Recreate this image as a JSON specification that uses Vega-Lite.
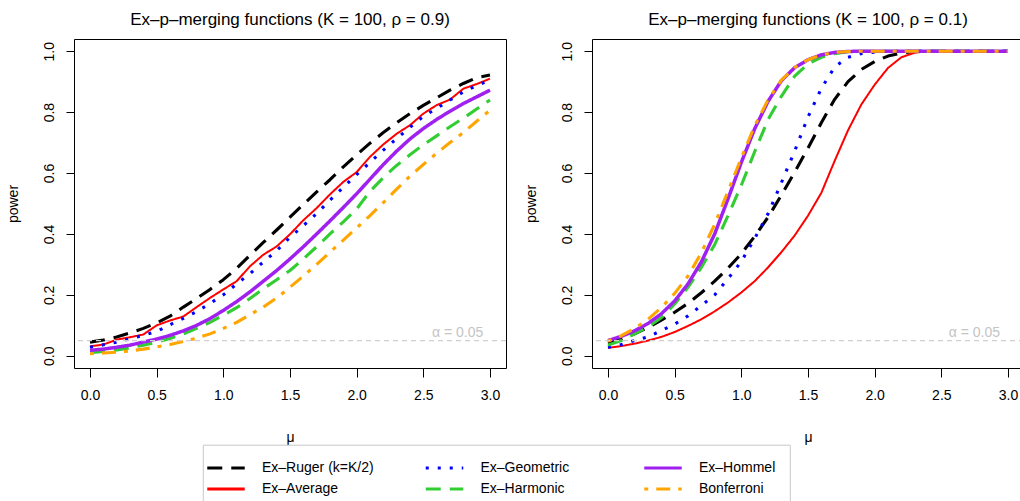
{
"$schema":"https://vega.github.io/schema/vega-lite/v6.json",
"background":"white",
"autosize":{"type":"pad"},
"padding":{"left":6,"top":10,"right":0,"bottom":0},
"bounds":"flush",
"spacing":86,
"datasets":{"curves":[
{"panel":"L","series":"Ruger","mu":0,"power":0.045},{"panel":"L","series":"Ruger","mu":0.1,"power":0.052},{"panel":"L","series":"Ruger","mu":0.2,"power":0.062},{"panel":"L","series":"Ruger","mu":0.3,"power":0.075},{"panel":"L","series":"Ruger","mu":0.4,"power":0.09},{"panel":"L","series":"Ruger","mu":0.5,"power":0.108},{"panel":"L","series":"Ruger","mu":0.6,"power":0.13},{"panel":"L","series":"Ruger","mu":0.7,"power":0.16},{"panel":"L","series":"Ruger","mu":0.8,"power":0.188},{"panel":"L","series":"Ruger","mu":0.9,"power":0.218},{"panel":"L","series":"Ruger","mu":1,"power":0.25},{"panel":"L","series":"Ruger","mu":1.1,"power":0.287},{"panel":"L","series":"Ruger","mu":1.2,"power":0.33},{"panel":"L","series":"Ruger","mu":1.3,"power":0.372},{"panel":"L","series":"Ruger","mu":1.4,"power":0.413},{"panel":"L","series":"Ruger","mu":1.5,"power":0.455},{"panel":"L","series":"Ruger","mu":1.6,"power":0.497},{"panel":"L","series":"Ruger","mu":1.7,"power":0.538},{"panel":"L","series":"Ruger","mu":1.8,"power":0.578},{"panel":"L","series":"Ruger","mu":1.9,"power":0.62},{"panel":"L","series":"Ruger","mu":2,"power":0.66},{"panel":"L","series":"Ruger","mu":2.1,"power":0.698},{"panel":"L","series":"Ruger","mu":2.2,"power":0.733},{"panel":"L","series":"Ruger","mu":2.3,"power":0.765},{"panel":"L","series":"Ruger","mu":2.4,"power":0.795},{"panel":"L","series":"Ruger","mu":2.5,"power":0.822},{"panel":"L","series":"Ruger","mu":2.6,"power":0.847},{"panel":"L","series":"Ruger","mu":2.7,"power":0.872},{"panel":"L","series":"Ruger","mu":2.8,"power":0.894},{"panel":"L","series":"Ruger","mu":2.9,"power":0.913},{"panel":"L","series":"Ruger","mu":3,"power":0.922},
{"panel":"L","series":"Average","mu":0,"power":0.031},{"panel":"L","series":"Average","mu":0.1,"power":0.037},{"panel":"L","series":"Average","mu":0.2,"power":0.053},{"panel":"L","series":"Average","mu":0.3,"power":0.061},{"panel":"L","series":"Average","mu":0.4,"power":0.07},{"panel":"L","series":"Average","mu":0.5,"power":0.1},{"panel":"L","series":"Average","mu":0.6,"power":0.116},{"panel":"L","series":"Average","mu":0.7,"power":0.129},{"panel":"L","series":"Average","mu":0.8,"power":0.16},{"panel":"L","series":"Average","mu":0.9,"power":0.19},{"panel":"L","series":"Average","mu":1,"power":0.218},{"panel":"L","series":"Average","mu":1.1,"power":0.245},{"panel":"L","series":"Average","mu":1.2,"power":0.294},{"panel":"L","series":"Average","mu":1.3,"power":0.332},{"panel":"L","series":"Average","mu":1.4,"power":0.359},{"panel":"L","series":"Average","mu":1.5,"power":0.399},{"panel":"L","series":"Average","mu":1.6,"power":0.445},{"panel":"L","series":"Average","mu":1.7,"power":0.485},{"panel":"L","series":"Average","mu":1.8,"power":0.53},{"panel":"L","series":"Average","mu":1.9,"power":0.571},{"panel":"L","series":"Average","mu":2,"power":0.603},{"panel":"L","series":"Average","mu":2.1,"power":0.653},{"panel":"L","series":"Average","mu":2.2,"power":0.694},{"panel":"L","series":"Average","mu":2.3,"power":0.729},{"panel":"L","series":"Average","mu":2.4,"power":0.757},{"panel":"L","series":"Average","mu":2.5,"power":0.795},{"panel":"L","series":"Average","mu":2.6,"power":0.823},{"panel":"L","series":"Average","mu":2.7,"power":0.841},{"panel":"L","series":"Average","mu":2.8,"power":0.877},{"panel":"L","series":"Average","mu":2.9,"power":0.892},{"panel":"L","series":"Average","mu":3,"power":0.91},
{"panel":"L","series":"Geometric","mu":0,"power":0.028},{"panel":"L","series":"Geometric","mu":0.1,"power":0.036},{"panel":"L","series":"Geometric","mu":0.2,"power":0.045},{"panel":"L","series":"Geometric","mu":0.3,"power":0.056},{"panel":"L","series":"Geometric","mu":0.4,"power":0.067},{"panel":"L","series":"Geometric","mu":0.5,"power":0.08},{"panel":"L","series":"Geometric","mu":0.6,"power":0.102},{"panel":"L","series":"Geometric","mu":0.7,"power":0.123},{"panel":"L","series":"Geometric","mu":0.8,"power":0.145},{"panel":"L","series":"Geometric","mu":0.9,"power":0.172},{"panel":"L","series":"Geometric","mu":1,"power":0.2},{"panel":"L","series":"Geometric","mu":1.1,"power":0.236},{"panel":"L","series":"Geometric","mu":1.2,"power":0.27},{"panel":"L","series":"Geometric","mu":1.3,"power":0.308},{"panel":"L","series":"Geometric","mu":1.4,"power":0.345},{"panel":"L","series":"Geometric","mu":1.5,"power":0.389},{"panel":"L","series":"Geometric","mu":1.6,"power":0.427},{"panel":"L","series":"Geometric","mu":1.7,"power":0.467},{"panel":"L","series":"Geometric","mu":1.8,"power":0.511},{"panel":"L","series":"Geometric","mu":1.9,"power":0.553},{"panel":"L","series":"Geometric","mu":2,"power":0.595},{"panel":"L","series":"Geometric","mu":2.1,"power":0.635},{"panel":"L","series":"Geometric","mu":2.2,"power":0.675},{"panel":"L","series":"Geometric","mu":2.3,"power":0.713},{"panel":"L","series":"Geometric","mu":2.4,"power":0.75},{"panel":"L","series":"Geometric","mu":2.5,"power":0.786},{"panel":"L","series":"Geometric","mu":2.6,"power":0.812},{"panel":"L","series":"Geometric","mu":2.7,"power":0.84},{"panel":"L","series":"Geometric","mu":2.8,"power":0.866},{"panel":"L","series":"Geometric","mu":2.9,"power":0.887},{"panel":"L","series":"Geometric","mu":3,"power":0.905},
{"panel":"L","series":"Harmonic","mu":0,"power":0.01},{"panel":"L","series":"Harmonic","mu":0.1,"power":0.014},{"panel":"L","series":"Harmonic","mu":0.2,"power":0.019},{"panel":"L","series":"Harmonic","mu":0.3,"power":0.026},{"panel":"L","series":"Harmonic","mu":0.4,"power":0.035},{"panel":"L","series":"Harmonic","mu":0.5,"power":0.045},{"panel":"L","series":"Harmonic","mu":0.6,"power":0.057},{"panel":"L","series":"Harmonic","mu":0.7,"power":0.072},{"panel":"L","series":"Harmonic","mu":0.8,"power":0.09},{"panel":"L","series":"Harmonic","mu":0.9,"power":0.11},{"panel":"L","series":"Harmonic","mu":1,"power":0.133},{"panel":"L","series":"Harmonic","mu":1.1,"power":0.158},{"panel":"L","series":"Harmonic","mu":1.2,"power":0.188},{"panel":"L","series":"Harmonic","mu":1.3,"power":0.22},{"panel":"L","series":"Harmonic","mu":1.4,"power":0.25},{"panel":"L","series":"Harmonic","mu":1.5,"power":0.28},{"panel":"L","series":"Harmonic","mu":1.6,"power":0.318},{"panel":"L","series":"Harmonic","mu":1.7,"power":0.358},{"panel":"L","series":"Harmonic","mu":1.8,"power":0.4},{"panel":"L","series":"Harmonic","mu":1.9,"power":0.44},{"panel":"L","series":"Harmonic","mu":2,"power":0.482},{"panel":"L","series":"Harmonic","mu":2.1,"power":0.54},{"panel":"L","series":"Harmonic","mu":2.2,"power":0.585},{"panel":"L","series":"Harmonic","mu":2.3,"power":0.625},{"panel":"L","series":"Harmonic","mu":2.4,"power":0.66},{"panel":"L","series":"Harmonic","mu":2.5,"power":0.693},{"panel":"L","series":"Harmonic","mu":2.6,"power":0.722},{"panel":"L","series":"Harmonic","mu":2.7,"power":0.752},{"panel":"L","series":"Harmonic","mu":2.8,"power":0.78},{"panel":"L","series":"Harmonic","mu":2.9,"power":0.81},{"panel":"L","series":"Harmonic","mu":3,"power":0.84},
{"panel":"L","series":"Hommel","mu":0,"power":0.018},{"panel":"L","series":"Hommel","mu":0.1,"power":0.022},{"panel":"L","series":"Hommel","mu":0.2,"power":0.028},{"panel":"L","series":"Hommel","mu":0.3,"power":0.035},{"panel":"L","series":"Hommel","mu":0.4,"power":0.045},{"panel":"L","series":"Hommel","mu":0.5,"power":0.055},{"panel":"L","series":"Hommel","mu":0.6,"power":0.067},{"panel":"L","series":"Hommel","mu":0.7,"power":0.082},{"panel":"L","series":"Hommel","mu":0.8,"power":0.1},{"panel":"L","series":"Hommel","mu":0.9,"power":0.122},{"panel":"L","series":"Hommel","mu":1,"power":0.149},{"panel":"L","series":"Hommel","mu":1.1,"power":0.178},{"panel":"L","series":"Hommel","mu":1.2,"power":0.21},{"panel":"L","series":"Hommel","mu":1.3,"power":0.245},{"panel":"L","series":"Hommel","mu":1.4,"power":0.28},{"panel":"L","series":"Hommel","mu":1.5,"power":0.318},{"panel":"L","series":"Hommel","mu":1.6,"power":0.358},{"panel":"L","series":"Hommel","mu":1.7,"power":0.4},{"panel":"L","series":"Hommel","mu":1.8,"power":0.443},{"panel":"L","series":"Hommel","mu":1.9,"power":0.487},{"panel":"L","series":"Hommel","mu":2,"power":0.532},{"panel":"L","series":"Hommel","mu":2.1,"power":0.58},{"panel":"L","series":"Hommel","mu":2.2,"power":0.628},{"panel":"L","series":"Hommel","mu":2.3,"power":0.672},{"panel":"L","series":"Hommel","mu":2.4,"power":0.712},{"panel":"L","series":"Hommel","mu":2.5,"power":0.746},{"panel":"L","series":"Hommel","mu":2.6,"power":0.776},{"panel":"L","series":"Hommel","mu":2.7,"power":0.803},{"panel":"L","series":"Hommel","mu":2.8,"power":0.828},{"panel":"L","series":"Hommel","mu":2.9,"power":0.85},{"panel":"L","series":"Hommel","mu":3,"power":0.872},
{"panel":"L","series":"Bonferroni","mu":0,"power":0.007},{"panel":"L","series":"Bonferroni","mu":0.1,"power":0.009},{"panel":"L","series":"Bonferroni","mu":0.2,"power":0.012},{"panel":"L","series":"Bonferroni","mu":0.3,"power":0.016},{"panel":"L","series":"Bonferroni","mu":0.4,"power":0.022},{"panel":"L","series":"Bonferroni","mu":0.5,"power":0.029},{"panel":"L","series":"Bonferroni","mu":0.6,"power":0.037},{"panel":"L","series":"Bonferroni","mu":0.7,"power":0.047},{"panel":"L","series":"Bonferroni","mu":0.8,"power":0.058},{"panel":"L","series":"Bonferroni","mu":0.9,"power":0.072},{"panel":"L","series":"Bonferroni","mu":1,"power":0.09},{"panel":"L","series":"Bonferroni","mu":1.1,"power":0.11},{"panel":"L","series":"Bonferroni","mu":1.2,"power":0.135},{"panel":"L","series":"Bonferroni","mu":1.3,"power":0.16},{"panel":"L","series":"Bonferroni","mu":1.4,"power":0.19},{"panel":"L","series":"Bonferroni","mu":1.5,"power":0.225},{"panel":"L","series":"Bonferroni","mu":1.6,"power":0.262},{"panel":"L","series":"Bonferroni","mu":1.7,"power":0.3},{"panel":"L","series":"Bonferroni","mu":1.8,"power":0.34},{"panel":"L","series":"Bonferroni","mu":1.9,"power":0.38},{"panel":"L","series":"Bonferroni","mu":2,"power":0.42},{"panel":"L","series":"Bonferroni","mu":2.1,"power":0.46},{"panel":"L","series":"Bonferroni","mu":2.2,"power":0.503},{"panel":"L","series":"Bonferroni","mu":2.3,"power":0.547},{"panel":"L","series":"Bonferroni","mu":2.4,"power":0.59},{"panel":"L","series":"Bonferroni","mu":2.5,"power":0.628},{"panel":"L","series":"Bonferroni","mu":2.6,"power":0.665},{"panel":"L","series":"Bonferroni","mu":2.7,"power":0.7},{"panel":"L","series":"Bonferroni","mu":2.8,"power":0.733},{"panel":"L","series":"Bonferroni","mu":2.9,"power":0.77},{"panel":"L","series":"Bonferroni","mu":3,"power":0.806},
{"panel":"R","series":"Ruger","mu":0,"power":0.042},{"panel":"R","series":"Ruger","mu":0.1,"power":0.055},{"panel":"R","series":"Ruger","mu":0.2,"power":0.072},{"panel":"R","series":"Ruger","mu":0.3,"power":0.093},{"panel":"R","series":"Ruger","mu":0.4,"power":0.117},{"panel":"R","series":"Ruger","mu":0.5,"power":0.143},{"panel":"R","series":"Ruger","mu":0.6,"power":0.172},{"panel":"R","series":"Ruger","mu":0.7,"power":0.207},{"panel":"R","series":"Ruger","mu":0.8,"power":0.245},{"panel":"R","series":"Ruger","mu":0.9,"power":0.288},{"panel":"R","series":"Ruger","mu":1,"power":0.335},{"panel":"R","series":"Ruger","mu":1.1,"power":0.392},{"panel":"R","series":"Ruger","mu":1.2,"power":0.455},{"panel":"R","series":"Ruger","mu":1.3,"power":0.527},{"panel":"R","series":"Ruger","mu":1.4,"power":0.603},{"panel":"R","series":"Ruger","mu":1.5,"power":0.682},{"panel":"R","series":"Ruger","mu":1.6,"power":0.765},{"panel":"R","series":"Ruger","mu":1.7,"power":0.842},{"panel":"R","series":"Ruger","mu":1.8,"power":0.9},{"panel":"R","series":"Ruger","mu":1.9,"power":0.94},{"panel":"R","series":"Ruger","mu":2,"power":0.966},{"panel":"R","series":"Ruger","mu":2.1,"power":0.984},{"panel":"R","series":"Ruger","mu":2.2,"power":0.994},{"panel":"R","series":"Ruger","mu":2.3,"power":0.999},{"panel":"R","series":"Ruger","mu":2.4,"power":1},{"panel":"R","series":"Ruger","mu":3,"power":1},
{"panel":"R","series":"Average","mu":0,"power":0.026},{"panel":"R","series":"Average","mu":0.1,"power":0.032},{"panel":"R","series":"Average","mu":0.2,"power":0.04},{"panel":"R","series":"Average","mu":0.3,"power":0.05},{"panel":"R","series":"Average","mu":0.4,"power":0.062},{"panel":"R","series":"Average","mu":0.5,"power":0.078},{"panel":"R","series":"Average","mu":0.6,"power":0.098},{"panel":"R","series":"Average","mu":0.7,"power":0.12},{"panel":"R","series":"Average","mu":0.8,"power":0.146},{"panel":"R","series":"Average","mu":0.9,"power":0.175},{"panel":"R","series":"Average","mu":1,"power":0.208},{"panel":"R","series":"Average","mu":1.1,"power":0.245},{"panel":"R","series":"Average","mu":1.2,"power":0.29},{"panel":"R","series":"Average","mu":1.3,"power":0.34},{"panel":"R","series":"Average","mu":1.4,"power":0.395},{"panel":"R","series":"Average","mu":1.5,"power":0.46},{"panel":"R","series":"Average","mu":1.6,"power":0.535},{"panel":"R","series":"Average","mu":1.7,"power":0.64},{"panel":"R","series":"Average","mu":1.8,"power":0.74},{"panel":"R","series":"Average","mu":1.9,"power":0.825},{"panel":"R","series":"Average","mu":2,"power":0.89},{"panel":"R","series":"Average","mu":2.1,"power":0.945},{"panel":"R","series":"Average","mu":2.2,"power":0.98},{"panel":"R","series":"Average","mu":2.3,"power":0.995},{"panel":"R","series":"Average","mu":2.4,"power":1},{"panel":"R","series":"Average","mu":3,"power":1},
{"panel":"R","series":"Geometric","mu":0,"power":0.028},{"panel":"R","series":"Geometric","mu":0.1,"power":0.037},{"panel":"R","series":"Geometric","mu":0.2,"power":0.05},{"panel":"R","series":"Geometric","mu":0.3,"power":0.062},{"panel":"R","series":"Geometric","mu":0.4,"power":0.083},{"panel":"R","series":"Geometric","mu":0.5,"power":0.104},{"panel":"R","series":"Geometric","mu":0.6,"power":0.131},{"panel":"R","series":"Geometric","mu":0.7,"power":0.165},{"panel":"R","series":"Geometric","mu":0.8,"power":0.2},{"panel":"R","series":"Geometric","mu":0.9,"power":0.253},{"panel":"R","series":"Geometric","mu":1,"power":0.31},{"panel":"R","series":"Geometric","mu":1.1,"power":0.385},{"panel":"R","series":"Geometric","mu":1.2,"power":0.466},{"panel":"R","series":"Geometric","mu":1.3,"power":0.568},{"panel":"R","series":"Geometric","mu":1.4,"power":0.672},{"panel":"R","series":"Geometric","mu":1.5,"power":0.784},{"panel":"R","series":"Geometric","mu":1.6,"power":0.878},{"panel":"R","series":"Geometric","mu":1.7,"power":0.948},{"panel":"R","series":"Geometric","mu":1.8,"power":0.98},{"panel":"R","series":"Geometric","mu":1.9,"power":0.992},{"panel":"R","series":"Geometric","mu":2,"power":0.997},{"panel":"R","series":"Geometric","mu":2.1,"power":1},{"panel":"R","series":"Geometric","mu":3,"power":1},
{"panel":"R","series":"Harmonic","mu":0,"power":0.035},{"panel":"R","series":"Harmonic","mu":0.1,"power":0.05},{"panel":"R","series":"Harmonic","mu":0.2,"power":0.072},{"panel":"R","series":"Harmonic","mu":0.3,"power":0.095},{"panel":"R","series":"Harmonic","mu":0.4,"power":0.125},{"panel":"R","series":"Harmonic","mu":0.5,"power":0.17},{"panel":"R","series":"Harmonic","mu":0.6,"power":0.225},{"panel":"R","series":"Harmonic","mu":0.7,"power":0.29},{"panel":"R","series":"Harmonic","mu":0.8,"power":0.365},{"panel":"R","series":"Harmonic","mu":0.9,"power":0.46},{"panel":"R","series":"Harmonic","mu":1,"power":0.56},{"panel":"R","series":"Harmonic","mu":1.1,"power":0.67},{"panel":"R","series":"Harmonic","mu":1.2,"power":0.775},{"panel":"R","series":"Harmonic","mu":1.3,"power":0.852},{"panel":"R","series":"Harmonic","mu":1.4,"power":0.918},{"panel":"R","series":"Harmonic","mu":1.5,"power":0.958},{"panel":"R","series":"Harmonic","mu":1.6,"power":0.98},{"panel":"R","series":"Harmonic","mu":1.7,"power":0.992},{"panel":"R","series":"Harmonic","mu":1.8,"power":0.998},{"panel":"R","series":"Harmonic","mu":1.9,"power":1},{"panel":"R","series":"Harmonic","mu":3,"power":1},
{"panel":"R","series":"Hommel","mu":0,"power":0.05},{"panel":"R","series":"Hommel","mu":0.1,"power":0.064},{"panel":"R","series":"Hommel","mu":0.2,"power":0.082},{"panel":"R","series":"Hommel","mu":0.3,"power":0.106},{"panel":"R","series":"Hommel","mu":0.4,"power":0.138},{"panel":"R","series":"Hommel","mu":0.5,"power":0.18},{"panel":"R","series":"Hommel","mu":0.6,"power":0.236},{"panel":"R","series":"Hommel","mu":0.7,"power":0.308},{"panel":"R","series":"Hommel","mu":0.8,"power":0.4},{"panel":"R","series":"Hommel","mu":0.9,"power":0.515},{"panel":"R","series":"Hommel","mu":1,"power":0.635},{"panel":"R","series":"Hommel","mu":1.1,"power":0.745},{"panel":"R","series":"Hommel","mu":1.2,"power":0.835},{"panel":"R","series":"Hommel","mu":1.3,"power":0.903},{"panel":"R","series":"Hommel","mu":1.4,"power":0.946},{"panel":"R","series":"Hommel","mu":1.5,"power":0.972},{"panel":"R","series":"Hommel","mu":1.6,"power":0.988},{"panel":"R","series":"Hommel","mu":1.7,"power":0.996},{"panel":"R","series":"Hommel","mu":1.8,"power":0.999},{"panel":"R","series":"Hommel","mu":1.9,"power":1},{"panel":"R","series":"Hommel","mu":3,"power":1},
{"panel":"R","series":"Bonferroni","mu":0,"power":0.048},{"panel":"R","series":"Bonferroni","mu":0.1,"power":0.066},{"panel":"R","series":"Bonferroni","mu":0.2,"power":0.09},{"panel":"R","series":"Bonferroni","mu":0.3,"power":0.12},{"panel":"R","series":"Bonferroni","mu":0.4,"power":0.158},{"panel":"R","series":"Bonferroni","mu":0.5,"power":0.205},{"panel":"R","series":"Bonferroni","mu":0.6,"power":0.262},{"panel":"R","series":"Bonferroni","mu":0.7,"power":0.338},{"panel":"R","series":"Bonferroni","mu":0.8,"power":0.432},{"panel":"R","series":"Bonferroni","mu":0.9,"power":0.54},{"panel":"R","series":"Bonferroni","mu":1,"power":0.65},{"panel":"R","series":"Bonferroni","mu":1.1,"power":0.755},{"panel":"R","series":"Bonferroni","mu":1.2,"power":0.84},{"panel":"R","series":"Bonferroni","mu":1.3,"power":0.905},{"panel":"R","series":"Bonferroni","mu":1.4,"power":0.946},{"panel":"R","series":"Bonferroni","mu":1.5,"power":0.972},{"panel":"R","series":"Bonferroni","mu":1.6,"power":0.988},{"panel":"R","series":"Bonferroni","mu":1.7,"power":0.996},{"panel":"R","series":"Bonferroni","mu":1.8,"power":0.999},{"panel":"R","series":"Bonferroni","mu":1.9,"power":1},{"panel":"R","series":"Bonferroni","mu":3,"power":1}
]},
"hconcat":[
{"width":432,"height":329,
"title":{"text":"Ex–p–merging functions (K = 100, ρ = 0.9)"},
"layer":[
{"data":{"name":"curves"},"transform":[{"filter":"datum.panel === 'L'"}],
"mark":{"type":"line","strokeJoin":"round","strokeCap":"butt"},
"encoding":{
"x":{"field":"mu","type":"quantitative","scale":{"domain":[-0.12,3.12],"nice":false,"zero":false},"axis":{"title":"μ","values":[0,0.5,1,1.5,2,2.5,3],"format":".1f","titleX":216,"titleY":73}},
"y":{"field":"power","type":"quantitative","scale":{"domain":[-0.04,1.04],"nice":false,"zero":false},"axis":{"title":"power","values":[0,0.2,0.4,0.6,0.8,1],"format":".1f","titleX":-56.2,"titleY":164.5}},
"color":{"field":"series","type":"nominal","scale":{"domain":["Ruger","Average","Geometric","Harmonic","Hommel","Bonferroni"],"range":["#000000","#FF0000","#0000FF","#32CD32","#A020F0","#FFA500"]},
"legend":{"orient":"none","legendX":128.8,"legendY":405.7,"columns":3,"title":null,"gridAlign":"all","columnPadding":45.5,"rowPadding":5,"padding":14.2,"labelOffset":27,"labelFontSize":14,"labelFont":"Liberation Sans","labelColor":"#000","symbolType":"M-2.5,0H2.5","symbolSize":225,"symbolStrokeWidth":3,"strokeColor":"#c8c8c8","fillColor":"white","labelExpr":"datum.label == 'Ruger' ? 'Ex–Ruger (k=K/2)' : datum.label == 'Bonferroni' ? 'Bonferroni' : 'Ex–' + datum.label"}},
"strokeDash":{"field":"series","type":"nominal","scale":{"domain":["Ruger","Average","Geometric","Harmonic","Hommel","Bonferroni"],"range":[[15,9],[1,0],[3,9],[15,9],[1,0],[4,8,14,8]]}},
"strokeWidth":{"condition":[{"test":"datum.series === 'Average'","value":2},{"test":"datum.series === 'Hommel'","value":3.5}],"value":3.1}
}},
{"data":{"values":[{}]},"mark":{"type":"rule","color":"#d0d0d0","strokeDash":[5,4],"strokeWidth":1.2},"encoding":{"y":{"datum":0.05,"type":"quantitative"}}},
{"data":{"values":[{}]},"mark":{"type":"text","align":"right","baseline":"alphabetic","fontSize":14,"font":"Liberation Sans","color":"#c4c4c4"},"encoding":{"x":{"datum":2.95,"type":"quantitative"},"y":{"datum":0.0615,"type":"quantitative"},"text":{"value":"α = 0.05"}}}
]},
{"width":432,"height":329,
"title":{"text":"Ex–p–merging functions (K = 100, ρ = 0.1)"},
"layer":[
{"data":{"name":"curves"},"transform":[{"filter":"datum.panel === 'R'"}],
"mark":{"type":"line","strokeJoin":"round","strokeCap":"butt"},
"encoding":{
"x":{"field":"mu","type":"quantitative","scale":{"domain":[-0.12,3.12],"nice":false,"zero":false},"axis":{"title":"μ","values":[0,0.5,1,1.5,2,2.5,3],"format":".1f","titleX":216,"titleY":73}},
"y":{"field":"power","type":"quantitative","scale":{"domain":[-0.04,1.04],"nice":false,"zero":false},"axis":{"title":"power","values":[0,0.2,0.4,0.6,0.8,1],"format":".1f","titleX":-56.2,"titleY":164.5}},
"color":{"field":"series","type":"nominal","scale":{"domain":["Ruger","Average","Geometric","Harmonic","Hommel","Bonferroni"],"range":["#000000","#FF0000","#0000FF","#32CD32","#A020F0","#FFA500"]}},
"strokeDash":{"field":"series","type":"nominal","scale":{"domain":["Ruger","Average","Geometric","Harmonic","Hommel","Bonferroni"],"range":[[15,9],[1,0],[3,9],[15,9],[1,0],[4,8,14,8]]}},
"strokeWidth":{"condition":[{"test":"datum.series === 'Average'","value":2},{"test":"datum.series === 'Hommel'","value":3.5}],"value":3.1}
}},
{"data":{"values":[{}]},"mark":{"type":"rule","color":"#d0d0d0","strokeDash":[5,4],"strokeWidth":1.2},"encoding":{"y":{"datum":0.05,"type":"quantitative"}}},
{"data":{"values":[{}]},"mark":{"type":"text","align":"right","baseline":"alphabetic","fontSize":14,"font":"Liberation Sans","color":"#c4c4c4"},"encoding":{"x":{"datum":2.94,"type":"quantitative"},"y":{"datum":0.0615,"type":"quantitative"},"text":{"value":"α = 0.05"}}}
]}
],
"resolve":{"scale":{"color":"shared","strokeDash":"shared"}},
"config":{
"font":"Liberation Sans",
"view":{"stroke":"#000000","strokeWidth":1},
"title":{"fontSize":17,"fontWeight":"normal","font":"Liberation Sans","color":"#000","baseline":"alphabetic","offset":10,"anchor":"middle","frame":"group"},
"axis":{"grid":false,"domain":false,"tickColor":"#000","tickWidth":1,"labelColor":"#000","labelFont":"Liberation Sans","labelFontSize":14,"titleFont":"Liberation Sans","titleFontSize":14,"titleFontWeight":"normal","titleColor":"#000","labelFlush":false,"labelOverlap":false},
"axisX":{"tickSize":9,"labelPadding":22.7,"labelBaseline":"alphabetic","titleBaseline":"alphabetic","titleAlign":"center"},
"axisY":{"tickSize":8,"labelPadding":12.4,"labelAngle":270,"labelAlign":"center","labelBaseline":"alphabetic","titleAngle":270,"titleBaseline":"alphabetic","titleAlign":"center"}
}
}
